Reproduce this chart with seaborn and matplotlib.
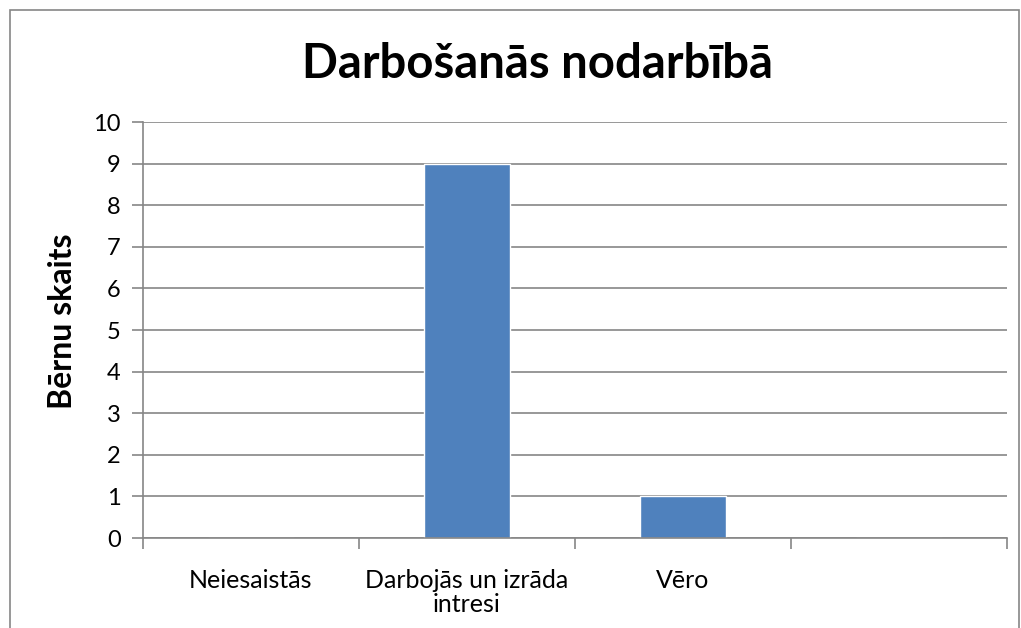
import numpy as np
import pandas as pd
import matplotlib
matplotlib.use("Agg")
import matplotlib.pyplot as plt
import seaborn as sns
from matplotlib.patches import Rectangle

# chart data
categories = ["Neiesaistās", "Darbojās un izrāda\nintresi", "Vēro", " "]
values = [0, 9, 1, 0]

df = pd.DataFrame({"kategorija": categories, "skaits": values})

sns.set_style("white")
plt.rcParams['font.family'] = ['Lato', 'DejaVu Sans']
plt.rcParams['text.color'] = 'black'
plt.rcParams['xtick.color'] = 'black'
plt.rcParams['ytick.color'] = 'black'
plt.rcParams['axes.labelcolor'] = 'black'

fig = plt.figure(figsize=(10.21, 6.28), dpi=100)
ax = fig.add_axes([0.140, 0.1433, 0.846, 0.6624])

sns.barplot(data=df, x="kategorija", y="skaits", color="#4f81bd",
            width=0.4, saturation=1, ax=ax)

grid_c = "#868686"
ax.set_ylim(0, 10)
ax.set_xlim(-0.5, 3.5)
ax.set_yticks(range(0, 11))
ax.yaxis.grid(True, color=grid_c, linewidth=1.2)
ax.set_axisbelow(True)
for s in ["top", "right"]:
    ax.spines[s].set_visible(False)
for s in ["left", "bottom"]:
    ax.spines[s].set_color(grid_c)
    ax.spines[s].set_linewidth(1.2)

ax.tick_params(axis="y", left=True, length=8, width=1.2, color=grid_c,
               direction="out", labelsize=17, pad=8)
ax.set_xticks(range(len(categories)))
ax.set_xticklabels(categories, multialignment="center", linespacing=1.05)
ax.tick_params(axis="x", which="major", bottom=False, length=0, labelsize=18, pad=22)
ax.set_xticks(np.arange(-0.5, 4.0, 1.0), minor=True)
ax.tick_params(axis="x", which="minor", bottom=True, length=8, width=1.2,
               color=grid_c, direction="out")
ax.set_xlabel("")
ax.set_ylabel("Bērnu skaits", fontsize=23, fontweight="bold")
ax.yaxis.set_label_coords(-0.0764, 0.52)

fig.text(0.526, 0.898, "Darbošanās nodarbībā", ha="center", va="center",
         fontsize=34, fontweight="bold")

# outer chart border
fig.patches.append(Rectangle((10 / 1021, -0.01), 1009 / 1021, 1 - 10 / 628 + 0.01,
                             transform=fig.transFigure, fill=False,
                             edgecolor=grid_c, linewidth=1.2))

fig.savefig("out.png", dpi=100)
